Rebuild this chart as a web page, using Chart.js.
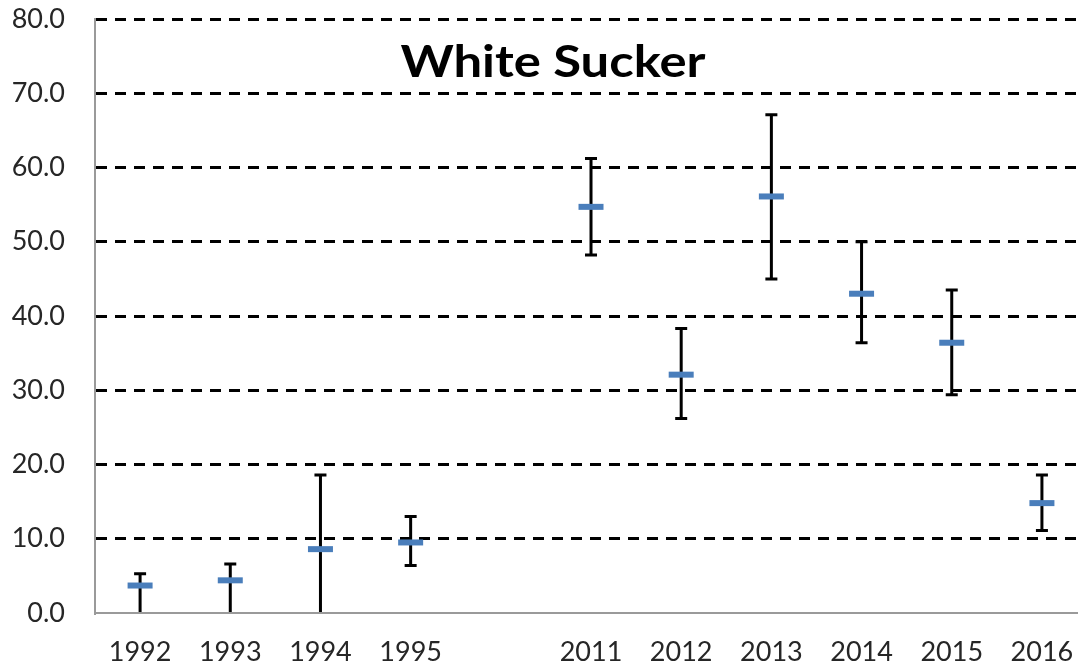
<!DOCTYPE html>
<html>
<head>
<meta charset="utf-8">
<script src="https://cdn.jsdelivr.net/npm/chart.js@4"></script>
<style>
  html, body { margin: 0; padding: 0; background: #fff; overflow: hidden; }
  canvas { display: block; }
</style>
</head>
<body>
<canvas id="chart" width="1078" height="666"></canvas>
<script>
// data (empty slot separates the two survey periods)
const years = ["1992", "1993", "1994", "1995", "", "2011", "2012", "2013", "2014", "2015", "2016"];
const means = [3.7, 4.4, 8.6, 9.5, null, 54.7, 32.1, 56.1, 43.0, 36.4, 14.8];
const upper = [5.3, 6.6, 18.6, 13.0, null, 61.2, 38.3, 67.1, 50.0, 43.5, 18.6];
const lower = [0, 0, 0, 6.4, null, 48.2, 26.2, 45.0, 36.4, 29.4, 11.1];
const yTicks = [0, 10, 20, 30, 40, 50, 60, 70, 80];

const FONT = "Lato, 'Open Sans', sans-serif";

// whiskers drawn through the chart's own scales
const errorBars = {
  id: "errorBars",
  beforeDatasetsDraw(chart) {
    const { ctx, scales: { x, y }, chartArea } = chart;
    ctx.save();
    ctx.beginPath();
    ctx.rect(chartArea.left, chartArea.top, chartArea.right - chartArea.left, chartArea.bottom - chartArea.top - 1);
    ctx.clip();
    ctx.strokeStyle = "#000";
    ctx.lineWidth = 3;
    years.forEach((yr, i) => {
      if (means[i] == null) return;
      const px = x.getPixelForValue(i);
      const yHi = y.getPixelForValue(upper[i]);
      const yLo = y.getPixelForValue(lower[i]);
      ctx.beginPath();
      ctx.moveTo(px, yHi);
      ctx.lineTo(px, yLo);
      ctx.moveTo(px - 6, yHi);
      ctx.lineTo(px + 6, yHi);
      if (lower[i] > 0) {
        ctx.moveTo(px - 6, yLo);
        ctx.lineTo(px + 6, yLo);
      }
      ctx.stroke();
    });
    ctx.restore();
  }
};

// title sits inside the plot, slightly stretched like the original
const titleInside = {
  id: "titleInside",
  afterDraw(chart) {
    const ctx = chart.ctx;
    ctx.save();
    ctx.font = "bold 44px " + FONT;
    const w = ctx.measureText("White Sucker").width;
    ctx.translate(553, 77);
    ctx.scale(305 / w, 1);
    ctx.fillStyle = "#000";
    ctx.textAlign = "center";
    ctx.textBaseline = "alphabetic";
    ctx.fillText("White Sucker", 0, 0);
    ctx.restore();
  }
};

new Chart(document.getElementById("chart"), {
  type: "scatter",
  data: {
    datasets: [{
      data: means.map((m, i) => ({ x: i, y: m })),
      showLine: false,
      pointStyle: "line",
      pointRadius: 12.5,
      pointHoverRadius: 12.5,
      pointBorderWidth: 6,
      borderColor: "#4a7ebb",
      backgroundColor: "#4a7ebb"
    }]
  },
  options: {
    responsive: false,
    animation: false,
    events: [],
    layout: { autoPadding: false, padding: { left: 0, top: 19, right: 0, bottom: 0 } },
    plugins: {
      legend: { display: false },
      tooltip: { enabled: false }
    },
    scales: {
      x: {
        type: "linear",
        min: -0.5,
        max: 10.4,
        afterBuildTicks(scale) { scale.ticks = years.map((y, i) => ({ value: i })); },
        afterFit(scale) {
          scale.height = 53;
          scale.paddingLeft = 0;
          scale.paddingRight = 0;
        },
        grid: { display: false, drawTicks: false },
        border: { display: true, color: "#9a9a9a", width: 2 },
        ticks: {
          color: "#262626",
          font: { family: FONT, size: 27 },
          padding: 23,
          maxRotation: 0,
          autoSkip: false,
          callback: (v, i) => years[i]
        }
      },
      y: {
        min: 0,
        max: 80,
        afterBuildTicks(scale) { scale.ticks = yTicks.map(v => ({ value: v })); },
        afterFit(scale) {
          scale.width = 95;
          scale.paddingTop = 0;
          scale.paddingBottom = 0;
        },
        grid: {
          drawTicks: false,
          color: c => (c.tick && c.tick.value === 0 ? "rgba(0,0,0,0)" : "#000"),
          lineWidth: 3
        },
        border: { display: true, color: "#9a9a9a", width: 2, dash: [11, 8] },
        ticks: {
          color: "#262626",
          font: { family: FONT, size: 27 },
          padding: 30,
          callback: v => v.toFixed(1)
        }
      }
    }
  },
  plugins: [errorBars, titleInside]
});
</script>
</body>
</html>
